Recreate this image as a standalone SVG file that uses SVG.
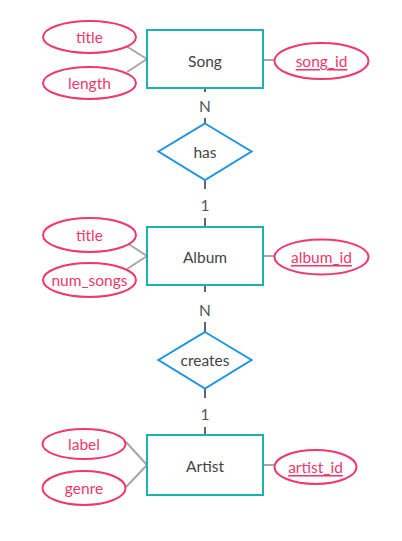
<svg xmlns="http://www.w3.org/2000/svg" width="402" height="541" viewBox="0 0 402 541">
<style>
.ent{fill:#fff;stroke:#1ab3ae;stroke-width:2}
.rel{fill:#fff;stroke:#1e96e0;stroke-width:2}
.att{fill:#fff;stroke:#f0386b;stroke-width:2}
.ln{stroke:#a6a6a6;stroke-width:2;fill:none}
.tl{stroke:#666;stroke-width:2;fill:none}
text{font-family:Lato,"Open Sans","Liberation Sans",sans-serif;font-size:15.5px;text-anchor:middle;dominant-baseline:central}
.et{fill:#444}
.at{fill:#f0386b}
.key{text-decoration:underline}
.card{fill:#555}
</style>
<rect width="402" height="541" fill="#fff"/>
<g id="connectors">
<line class="ln" x1="126" y1="46" x2="147" y2="59"/>
<line class="ln" x1="127" y1="72" x2="147" y2="59"/>
<line class="ln" x1="263" y1="60" x2="275" y2="60"/>
<line class="ln" x1="127" y1="243" x2="147" y2="256"/>
<line class="ln" x1="127" y1="269" x2="147" y2="256"/>
<line class="ln" x1="263" y1="256" x2="275" y2="256"/>
<line class="ln" x1="126" y1="442" x2="147" y2="465"/>
<line class="ln" x1="126" y1="487" x2="147" y2="465"/>
<line class="ln" x1="263" y1="465" x2="275" y2="465"/>
<line class="tl" x1="205" y1="88" x2="205" y2="92"/>
<line class="tl" x1="205" y1="118" x2="205" y2="123"/>
<line class="tl" x1="205" y1="180" x2="205" y2="189"/>
<line class="tl" x1="205" y1="218" x2="205" y2="227"/>
<line class="tl" x1="205" y1="285" x2="205" y2="292"/>
<line class="tl" x1="205" y1="322" x2="205" y2="332"/>
<line class="tl" x1="205" y1="388" x2="205" y2="398"/>
<line class="tl" x1="205" y1="427" x2="205" y2="435"/>
<text class="card" x="205" y="106">N</text>
<text class="card" x="205" y="205">1</text>
<text class="card" x="205" y="310">N</text>
<text class="card" x="205" y="414">1</text>
</g>
<g id="song">
<rect class="ent" x="147" y="30" width="116" height="58"/>
<text class="et" x="205" y="61">Song</text>
</g>
<g id="song_title">
<ellipse class="att" cx="89.5" cy="37" rx="46.5" ry="16"/>
<text class="at" x="89.5" y="37">title</text>
</g>
<g id="song_length">
<ellipse class="att" cx="89.5" cy="83" rx="46.5" ry="16"/>
<text class="at" x="89.5" y="83">length</text>
</g>
<g id="song_id">
<ellipse class="att" cx="321.5" cy="61" rx="47" ry="18"/>
<text class="at key" x="321.5" y="61">song_id</text>
</g>
<g id="has">
<polygon class="rel" points="205,123.5 251.5,151.5 205,180 158.5,151.5"/>
<text class="et" x="205" y="152">has</text>
</g>
<g id="album">
<rect class="ent" x="147" y="227" width="116" height="58"/>
<text class="et" x="205" y="257">Album</text>
</g>
<g id="album_title">
<ellipse class="att" cx="89.5" cy="235" rx="46.5" ry="17"/>
<text class="at" x="89.5" y="235">title</text>
</g>
<g id="album_num_songs">
<ellipse class="att" cx="89.5" cy="280" rx="46.5" ry="17"/>
<text class="at" x="89.5" y="280">num_songs</text>
</g>
<g id="album_id">
<ellipse class="att" cx="321.5" cy="257" rx="47" ry="17.5"/>
<text class="at key" x="321.5" y="257">album_id</text>
</g>
<g id="creates">
<polygon class="rel" points="205,332 251.5,360 205,388.5 158.5,360"/>
<text class="et" x="205" y="360">creates</text>
</g>
<g id="artist">
<rect class="ent" x="147" y="435" width="116" height="60"/>
<text class="et" x="205" y="466">Artist</text>
</g>
<g id="artist_label">
<ellipse class="att" cx="84" cy="444" rx="41.5" ry="15"/>
<text class="at" x="84" y="444">label</text>
</g>
<g id="artist_genre">
<ellipse class="att" cx="84" cy="488" rx="41.5" ry="17"/>
<text class="at" x="84" y="488">genre</text>
</g>
<g id="artist_id">
<ellipse class="att" cx="315.5" cy="467" rx="41" ry="17"/>
<text class="at key" x="315.5" y="467">artist_id</text>
</g>
</svg>
